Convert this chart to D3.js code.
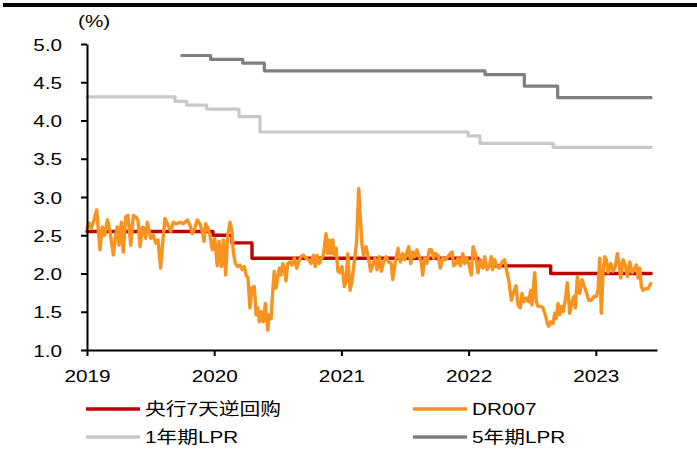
<!DOCTYPE html>
<html>
<head>
<meta charset="utf-8">
<script src="https://cdn.jsdelivr.net/npm/d3@7/dist/d3.min.js"></script>
<style>
  body { margin: 0; background: #fff; }
  svg { display: block; }
  text { font-family: "Liberation Sans", Arial, "Noto Sans CJK SC", sans-serif; fill: #000; }
</style>
</head>
<body>
<svg id="chart" width="697" height="454"></svg>
<script>
// Time is expressed in fractional years (2019.5 = mid-2019)
const yearTicks = [2019, 2020, 2021, 2022, 2023];
const rateTicks = [1.0, 1.5, 2.0, 2.5, 3.0, 3.5, 4.0, 4.5, 5.0];
const seriesNames = ["央行7天逆回购", "DR007", "1年期LPR", "5年期LPR"];
const seriesColors = ["#C00000", "#F7931E", "#C8C8C8", "#7F7F7F"];
const endTime = 2023.435;

// 7-day reverse repo policy rate (step changes)
const repoTime = [2019.000, 2019.990, 2020.140, 2020.297, 2022.074, 2022.645];
const repoRate = [2.55, 2.50, 2.40, 2.20, 2.10, 2.00];

// 1-year LPR
const lpr1Time = [2019.000, 2019.692, 2019.784, 2019.941, 2020.195, 2020.360, 2021.995, 2022.090, 2022.664];
const lpr1Rate = [4.31, 4.25, 4.20, 4.15, 4.05, 3.85, 3.80, 3.70, 3.65];

// 5-year LPR
const lpr5Time = [2019.745, 2019.972, 2020.224, 2020.394, 2022.129, 2022.438, 2022.700];
const lpr5Rate = [4.85, 4.80, 4.75, 4.65, 4.60, 4.45, 4.30];

// DR007
const drTime = [
  2019.000, 2019.016, 2019.034, 2019.055, 2019.076, 2019.086, 2019.102, 2019.120, 2019.139, 2019.160,
  2019.181, 2019.207, 2019.226, 2019.238, 2019.252, 2019.270, 2019.285, 2019.304, 2019.322, 2019.344,
  2019.364, 2019.383, 2019.401, 2019.417, 2019.435, 2019.448, 2019.461, 2019.474, 2019.501, 2019.521,
  2019.540, 2019.558, 2019.579, 2019.598, 2019.613, 2019.637, 2019.658, 2019.678, 2019.705, 2019.731,
  2019.757, 2019.789, 2019.810, 2019.828, 2019.847, 2019.867, 2019.888, 2019.906, 2019.920, 2019.933,
  2019.951, 2019.967, 2019.985, 2020.004, 2020.024, 2020.038, 2020.056, 2020.072, 2020.090, 2020.106,
  2020.124, 2020.140, 2020.150, 2020.166, 2020.185, 2020.203, 2020.219, 2020.237, 2020.250, 2020.266,
  2020.281, 2020.297, 2020.315, 2020.329, 2020.342, 2020.355, 2020.370, 2020.386, 2020.402, 2020.421,
  2020.433, 2020.447, 2020.460, 2020.472, 2020.486, 2020.499, 2020.512, 2020.525, 2020.539, 2020.551,
  2020.564, 2020.578, 2020.596, 2020.612, 2020.630, 2020.649, 2020.664, 2020.682, 2020.700, 2020.722,
  2020.743, 2020.761, 2020.779, 2020.795, 2020.808, 2020.826, 2020.845, 2020.858, 2020.879, 2020.892,
  2020.905, 2020.918, 2020.932, 2020.944, 2020.958, 2020.973, 2020.989, 2021.005, 2021.023, 2021.036,
  2021.050, 2021.068, 2021.083, 2021.101, 2021.120, 2021.136, 2021.149, 2021.162, 2021.175, 2021.193,
  2021.215, 2021.230, 2021.246, 2021.264, 2021.280, 2021.298, 2021.314, 2021.333, 2021.351, 2021.372,
  2021.392, 2021.403, 2021.424, 2021.445, 2021.463, 2021.482, 2021.498, 2021.516, 2021.529, 2021.545,
  2021.561, 2021.576, 2021.594, 2021.612, 2021.628, 2021.639, 2021.655, 2021.673, 2021.691, 2021.707,
  2021.726, 2021.738, 2021.759, 2021.778, 2021.796, 2021.817, 2021.838, 2021.856, 2021.870, 2021.883,
  2021.901, 2021.917, 2021.935, 2021.954, 2021.969, 2021.987, 2022.006, 2022.021, 2022.035, 2022.053,
  2022.074, 2022.092, 2022.111, 2022.127, 2022.145, 2022.163, 2022.179, 2022.189, 2022.205, 2022.223,
  2022.241, 2022.263, 2022.284, 2022.302, 2022.315, 2022.336, 2022.355, 2022.373, 2022.388, 2022.406,
  2022.420, 2022.436, 2022.454, 2022.472, 2022.488, 2022.498, 2022.520, 2022.532, 2022.546, 2022.567,
  2022.585, 2022.603, 2022.619, 2022.630, 2022.645, 2022.664, 2022.677, 2022.689, 2022.703, 2022.716,
  2022.729, 2022.744, 2022.760, 2022.776, 2022.795, 2022.813, 2022.829, 2022.839, 2022.855, 2022.873,
  2022.892, 2022.907, 2022.925, 2022.944, 2022.965, 2022.986, 2023.004, 2023.017, 2023.031, 2023.043,
  2023.057, 2023.070, 2023.083, 2023.096, 2023.117, 2023.135, 2023.153, 2023.169, 2023.182, 2023.196,
  2023.214, 2023.232, 2023.248, 2023.267, 2023.285, 2023.300, 2023.318, 2023.332, 2023.345, 2023.358,
  2023.371, 2023.389, 2023.410, 2023.432
];
const drRate = [
  2.59, 2.66, 2.59, 2.70, 2.83, 2.63, 2.31, 2.61, 2.50, 2.70,
  2.55, 2.24, 2.50, 2.61, 2.37, 2.67, 2.28, 2.74, 2.76, 2.37,
  2.76, 2.74, 2.70, 2.35, 2.61, 2.59, 2.46, 2.67, 2.46, 2.50,
  2.40, 2.44, 2.07, 2.46, 2.72, 2.63, 2.55, 2.67, 2.65, 2.67,
  2.65, 2.70, 2.63, 2.52, 2.59, 2.70, 2.65, 2.55, 2.42, 2.65,
  2.59, 2.50, 2.31, 2.46, 2.10, 2.42, 2.09, 2.44, 1.98, 2.50,
  2.67, 2.55, 2.28, 2.13, 2.09, 2.11, 2.05, 2.09, 1.98, 1.94,
  1.55, 1.81, 1.83, 1.46, 1.55, 1.37, 1.50, 1.37, 1.61, 1.26,
  1.46, 1.41, 1.76, 2.03, 1.81, 1.94, 2.07, 1.98, 2.13, 2.07,
  1.90, 2.13, 2.15, 2.11, 2.20, 2.07, 2.15, 2.22, 2.24, 2.20,
  2.18, 2.13, 2.24, 2.09, 2.24, 2.13, 2.20, 2.24, 2.52, 2.26,
  2.44, 2.26, 2.44, 2.24, 2.33, 2.03, 2.01, 2.09, 1.83, 1.90,
  2.26, 1.78, 1.90, 2.15, 2.42, 3.11, 2.72, 2.37, 2.24, 2.35,
  2.18, 2.03, 2.11, 2.20, 2.05, 2.22, 2.03, 2.15, 2.22, 2.15,
  2.13, 1.92, 2.15, 2.33, 2.15, 2.26, 2.18, 2.28, 2.35, 2.13,
  2.28, 2.22, 2.31, 2.22, 2.15, 1.98, 2.20, 2.13, 2.31, 2.31,
  2.20, 2.26, 2.24, 2.07, 2.20, 2.18, 2.22, 2.26, 2.28, 2.10,
  2.13, 2.20, 2.10, 2.26, 2.13, 2.20, 2.10, 1.98, 2.35, 2.26,
  2.01, 2.18, 2.07, 2.22, 2.05, 2.10, 2.22, 2.05, 2.18, 2.10,
  2.07, 2.15, 2.18, 2.01, 1.92, 1.65, 1.76, 1.84, 1.59, 1.55,
  1.74, 1.63, 1.68, 1.63, 1.78, 1.59, 2.01, 1.63, 1.57, 1.57,
  1.55, 1.46, 1.35, 1.31, 1.37, 1.35, 1.48, 1.41, 1.61, 1.46,
  1.57, 1.50, 1.65, 1.88, 1.48, 1.63, 1.70, 1.55, 1.96, 1.74,
  1.92, 1.84, 1.76, 1.65, 1.65, 1.70, 1.70, 1.78, 2.20, 1.48,
  2.01, 2.22, 2.18, 2.01, 2.13, 2.03, 2.09, 2.26, 2.15, 1.94,
  2.18, 2.11, 1.96, 2.15, 2.01, 2.05, 2.11, 1.94, 2.07, 1.83,
  1.78, 1.80, 1.80, 1.87
];

const svg = d3.select("#chart");
const x = d3.scaleLinear().domain([2019, 2023.481]).range([87, 657]);
const y = d3.scaleLinear().domain([1, 5]).range([350, 44]);

// Slightly wide glyphs, as in the original layout
const STRETCH = 1.22;

// top rule
svg.append("rect").attr("x", 3).attr("y", 3).attr("width", 694).attr("height", 4).attr("fill", "#000");

const zip = (ts, vs) => ts.map((t, i) => ({ t, v: vs[i] }));
const stepData = (ts, vs) => zip(ts, vs).concat([{ t: endTime, v: vs[vs.length - 1] }]);

const stepLine = d3.line().x(d => x(d.t)).y(d => y(d.v)).curve(d3.curveStepAfter);
const plainLine = d3.line().x(d => x(d.t)).y(d => y(d.v)).curve(d3.curveLinear);

const plot = svg.append("g").attr("fill", "none").attr("stroke-linejoin", "round").attr("stroke-linecap", "round");
plot.append("path").datum(stepData(lpr1Time, lpr1Rate)).attr("d", stepLine)
  .attr("stroke", seriesColors[2]).attr("stroke-width", 3.2);
plot.append("path").datum(stepData(lpr5Time, lpr5Rate)).attr("d", stepLine)
  .attr("stroke", seriesColors[3]).attr("stroke-width", 3.2);
plot.append("path").datum(stepData(repoTime, repoRate)).attr("d", stepLine)
  .attr("stroke", seriesColors[0]).attr("stroke-width", 3.4);
plot.append("path").datum(zip(drTime, drRate)).attr("d", plainLine)
  .attr("stroke", seriesColors[1]).attr("stroke-width", 3.4);

// y axis
const yAxis = svg.append("g").attr("transform", "translate(87,0)")
  .call(d3.axisLeft(y).tickValues(rateTicks).tickFormat(d3.format(".1f")).tickSize(6).tickSizeOuter(0));
yAxis.select(".domain").attr("stroke", "#000").attr("stroke-width", 2);
yAxis.selectAll(".tick line").attr("stroke", "#000").attr("stroke-width", 2);
yAxis.selectAll(".tick text")
  .attr("x", null).attr("dy", null)
  .attr("transform", `translate(-25,6) scale(${STRETCH},1)`)
  .attr("font-size", 17).attr("text-anchor", "end")
  .style("font-family", "'Liberation Sans', Arial, sans-serif");

// x axis
const xAxis = svg.append("g").attr("transform", "translate(0,350)")
  .call(d3.axisBottom(x).tickValues(yearTicks).tickFormat(d3.format("d")).tickSize(6).tickSizeOuter(0));
xAxis.select(".domain").attr("stroke", "#000").attr("stroke-width", 2);
xAxis.selectAll(".tick line").attr("stroke", "#000").attr("stroke-width", 2);
xAxis.selectAll(".tick text")
  .attr("y", null).attr("dy", null)
  .attr("transform", `translate(0,32) scale(${STRETCH},1)`)
  .attr("font-size", 17).attr("text-anchor", "middle")
  .style("font-family", "'Liberation Sans', Arial, sans-serif");

// unit label
svg.append("text").attr("transform", `translate(78,27) scale(${STRETCH},1)`)
  .attr("font-size", 17).text("(%)");

// legend
const legendPos = [[86, 409], [413, 409], [86, 437], [413, 437]];
const legend = svg.append("g");
seriesNames.forEach((name, i) => {
  const [lx, ly] = legendPos[i];
  legend.append("line").attr("x1", lx).attr("x2", lx + 54).attr("y1", ly).attr("y2", ly)
    .attr("stroke", seriesColors[i]).attr("stroke-width", 3.4);
  legend.append("text").attr("transform", `translate(${lx + 59},${ly + 6}) scale(${STRETCH},1)`)
    .attr("font-size", 17).text(name);
});
</script>
</body>
</html>
